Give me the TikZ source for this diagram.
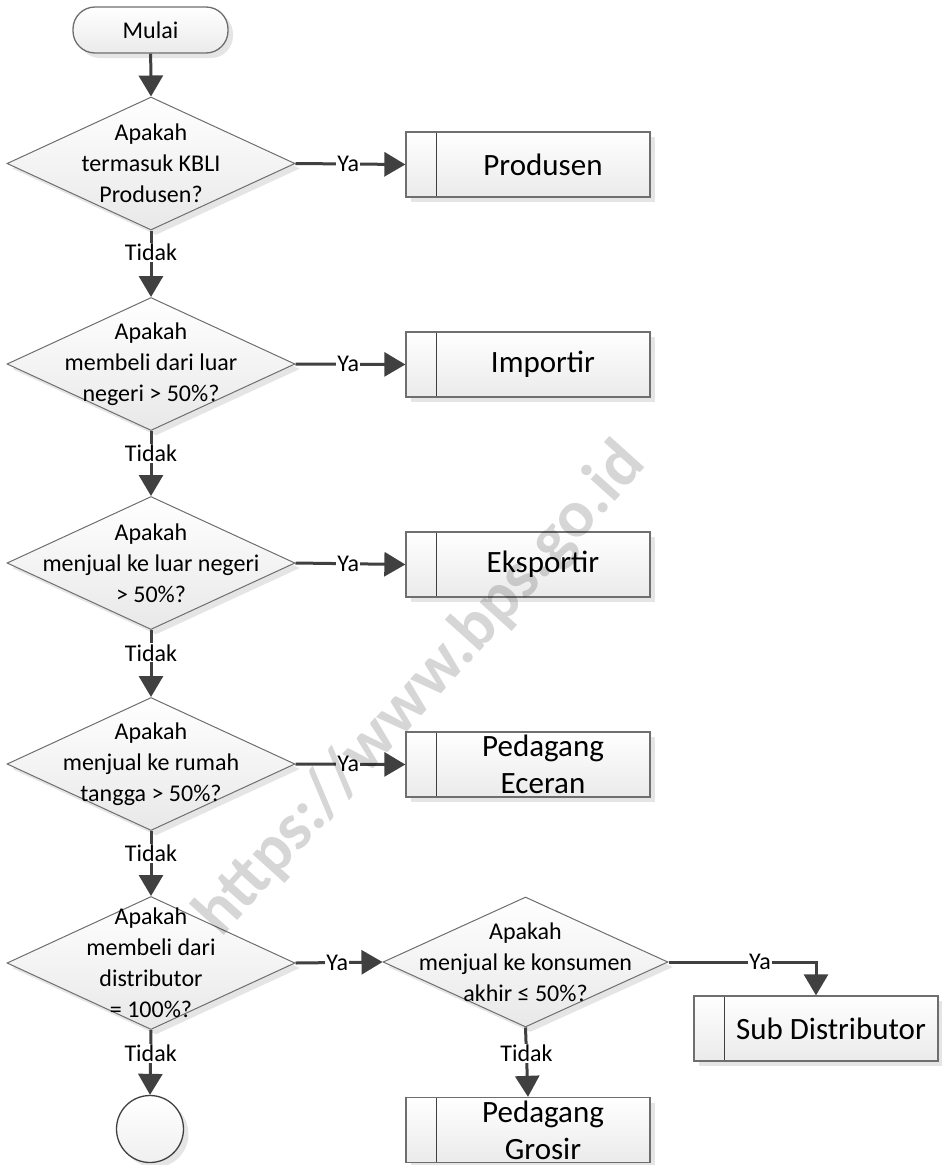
\documentclass[tikz,border=0pt]{standalone}
\usepackage{fontspec}
\setmainfont{Carlito}
\newfontfamily\markfont{Carlito}
\usetikzlibrary{shapes.geometric,arrows.meta,shadows}

\definecolor{flowline}{HTML}{404040}
\definecolor{edgegray}{HTML}{6E6E6E}

\begin{document}
\begin{tikzpicture}[x=1pt,y=-1pt,
  every node/.style={font=\fontsize{24}{31}\selectfont},
  flow/.style={draw=flowline, line width=3pt, -{Triangle[length=21pt,width=24pt]}},
  lbl/.style={fill=white, inner xsep=1pt, inner ysep=1pt, text=black},
  shadowed/.style={drop shadow={shadow xshift=5pt, shadow yshift=-5pt, fill=black!20, opacity=0.5}},
  terminal/.style={rectangle, rounded corners=22pt, draw=edgegray, line width=1.3pt,
    minimum width=155pt, minimum height=46pt, inner sep=0pt,
    top color=white, bottom color=black!8, shadowed},
  decision/.style={shape=diamond, draw=edgegray, line width=1pt, inner sep=0pt,
    minimum width=288pt, minimum height=133pt, top color=white, bottom color=black!9, shadowed},
  question/.style={align=center, inner sep=0pt},
  procbox/.style={rectangle, draw=edgegray, line width=1.3pt, inner sep=0pt,
    minimum width=244pt, minimum height=65pt, top color=white, bottom color=black!8, shadowed,
    path picture={\draw[black!75, line width=1pt]
      ([xshift=30pt]path picture bounding box.north west) --
      ([xshift=30pt]path picture bounding box.south west);}},
  boxtext/.style={align=center, font=\fontsize{31}{37}\selectfont, inner sep=0pt, xshift=15pt},
  connector/.style={circle, draw=flowline, line width=1.3pt, minimum size=67pt, inner sep=0pt,
    top color=white, bottom color=black!6, shadowed}
]
\useasboundingbox (0,0) rectangle (942,1165);

% start terminal
\node[terminal] (start) at (150.5,30) {Mulai};

% decision column
\node[decision] (d1) at (151,163.5) {};
\node[question] (q1) at (d1) {Apakah\\termasuk KBLI\\Produsen?};
\node[decision] (d2) at (151,364) {};
\node[question] (q2) at (d2) {Apakah\\membeli dari luar\\negeri > 50\%?};
\node[decision] (d3) at (151,563) {};
\node[question] (q3) at (d3) {Apakah\\menjual ke luar negeri\\> 50\%?};
\node[decision] (d4) at (151,764) {};
\node[question] (q4) at (d4) {Apakah\\menjual ke rumah\\tangga > 50\%?};
\node[decision] (d5) at (151,963) {};
\node[question] (q5) at (d5) {Apakah\\membeli dari\\distributor\\= 100\%?};
\node[decision, minimum width=285pt, minimum height=130pt] (d6) at (525.5,962) {};
\node[question] (q6) at (d6) {Apakah\\menjual ke konsumen\\akhir ≤ 50\%?};

% outcome boxes
\node[procbox, label={[boxtext]center:Produsen}] (b1) at (528,164.5) {};
\node[procbox, label={[boxtext]center:Importir}] (b2) at (528,364.5) {};
\node[procbox, label={[boxtext]center:Eksportir}] (b3) at (528,564.5) {};
\node[procbox, label={[boxtext]center:Pedagang\\Eceran}] (b4) at (528,764.5) {};
\node[procbox, label={[boxtext]center:Pedagang\\Grosir}] (grosir) at (528,1130) {};
\node[procbox, label={[boxtext]center:Sub Distributor}] (sub) at (816,1028.5) {};

% off-page connector
\node[connector] (endc) at (150,1129) {};

% vertical flow
\draw[flow] (start) -- (d1.north);
\draw[flow] (d1.south) -- node[lbl, pos=0.33] {Tidak} (d2.north);
\draw[flow] (d2.south) -- node[lbl, pos=0.34] {Tidak} (d3.north);
\draw[flow] (d3.south) -- node[lbl, pos=0.34] {Tidak} (d4.north);
\draw[flow] (d4.south) -- node[lbl, pos=0.34] {Tidak} (d5.north);
\draw[flow] (d5.south) -- node[lbl, pos=0.36] {Tidak} (endc.north);
\draw[flow] (d6.south) -- node[lbl, pos=0.37] {Tidak} (grosir.north);

% yes branches
\draw[flow] (d1.east) -- node[lbl, pos=0.48] {Ya} (b1.west);
\draw[flow] (d2.east) -- node[lbl, pos=0.48] {Ya} (b2.west);
\draw[flow] (d3.east) -- node[lbl, pos=0.48] {Ya} (b3.west);
\draw[flow] (d4.east) -- node[lbl, pos=0.48] {Ya} (b4.west);
\draw[flow] (d5.east) -- node[lbl, pos=0.48] {Ya} (d6.west);
\draw[flow] (d6.east) -| node[lbl, pos=0.31] {Ya} (sub.north);

% watermark
\node[rotate=48, text=black, opacity=0.16, inner sep=0pt,
  font=\markfont\bfseries\fontsize{67}{67}\selectfont] (wm) at (421,690) {https://www.bps.go.id};
\end{tikzpicture}
\end{document}
